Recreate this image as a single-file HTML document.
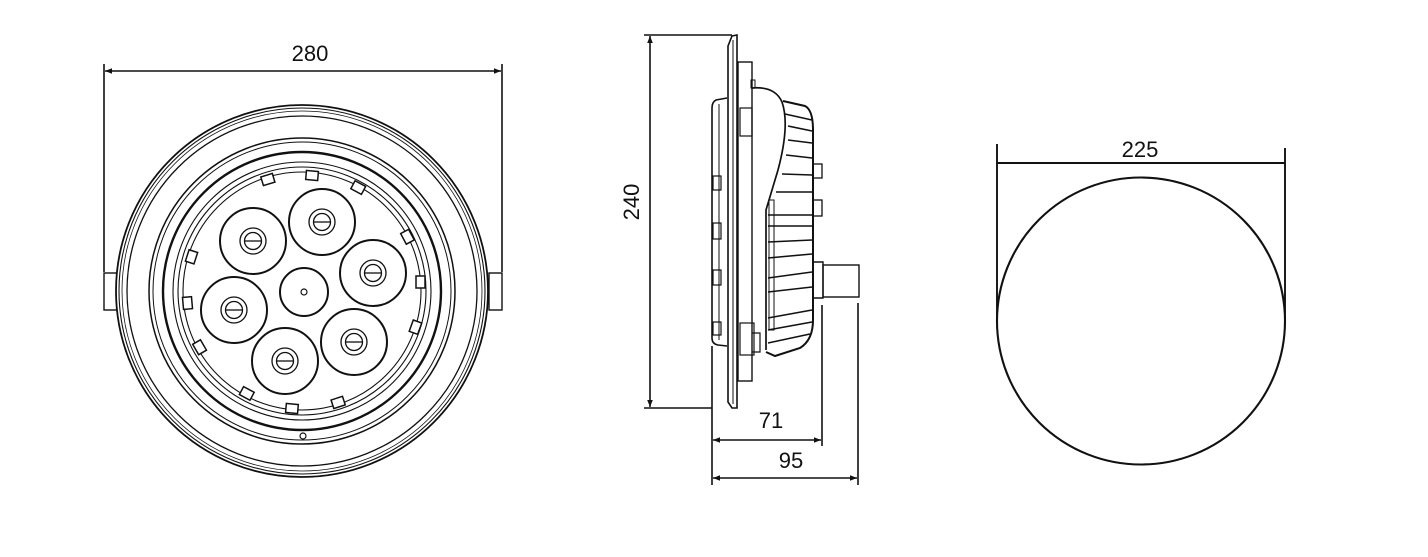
<!DOCTYPE html>
<html><head><meta charset="utf-8"><style>
html,body{margin:0;padding:0;background:#fff;}
svg{display:block;}
text{font-family:"Liberation Sans",Arial,sans-serif;font-size:22px;fill:#111;}
</style></head><body>
<svg width="1428" height="557" viewBox="0 0 1428 557" xmlns="http://www.w3.org/2000/svg">
<defs>
<marker id="ar" viewBox="0 0 10 10" refX="10" refY="5" markerWidth="13" markerHeight="7" orient="auto-start-reverse" markerUnits="userSpaceOnUse">
<path d="M0,1 L10,5 L0,9 z" fill="#111"/></marker>
</defs>
<g stroke="#111" fill="none">
<!-- FRONT VIEW -->
<line x1="104" y1="64" x2="104" y2="272" stroke-width="1.6"/>
<line x1="502" y1="64" x2="502" y2="272" stroke-width="1.6"/>
<line x1="105" y1="71" x2="501" y2="71" stroke-width="1.5" marker-start="url(#ar)" marker-end="url(#ar)"/>
<rect x="104" y="273" width="13" height="37" stroke-width="1.4" fill="#fff"/>
<rect x="489" y="273" width="13" height="37" stroke-width="1.4" fill="#fff"/>
<circle cx="302" cy="291" r="186" stroke-width="1.8" fill="#fff"/>
<circle cx="302" cy="291" r="183" stroke-width="1.1"/>
<circle cx="302" cy="291" r="180" stroke-width="0.8"/>
<circle cx="302" cy="291" r="175" stroke-width="1.3"/>
<circle cx="302" cy="291" r="153" stroke-width="1.5"/>
<circle cx="302" cy="291" r="149" stroke-width="1"/>
<circle cx="302" cy="291" r="139" stroke-width="2.4"/>
<circle cx="302" cy="291" r="129" stroke-width="1.1"/>
<circle cx="302" cy="291" r="124" stroke-width="1.1"/>
<circle cx="302" cy="291" r="119" stroke-width="1.1"/>
<g stroke-width="1.5" fill="#fff">
<rect x="-6" y="-5" width="12" height="9" transform="translate(312,176) rotate(5)"/>
<rect x="-6" y="-5" width="12" height="9" transform="translate(268,180) rotate(-17)"/>
<rect x="-6" y="-5" width="12" height="9" transform="translate(358,188) rotate(28)"/>
<rect x="-6" y="-5" width="12" height="9" transform="translate(407,237) rotate(62)"/>
<rect x="-6" y="-5" width="12" height="9" transform="translate(420,282) rotate(90)"/>
<rect x="-6" y="-5" width="12" height="9" transform="translate(415,327) rotate(110)"/>
<rect x="-6" y="-5" width="12" height="9" transform="translate(338,402) rotate(162)"/>
<rect x="-6" y="-5" width="12" height="9" transform="translate(292,408) rotate(185)"/>
<rect x="-6" y="-5" width="12" height="9" transform="translate(247,393) rotate(208)"/>
<rect x="-6" y="-5" width="12" height="9" transform="translate(200,347) rotate(240)"/>
<rect x="-6" y="-5" width="12" height="9" transform="translate(188,303) rotate(265)"/>
<rect x="-6" y="-5" width="12" height="9" transform="translate(192,257) rotate(288)"/>
</g>
<circle cx="303" cy="436" r="3" stroke-width="1.2"/>
<g stroke-width="2" fill="#fff">
<circle cx="253" cy="241" r="33"/><circle cx="322" cy="222" r="33"/>
<circle cx="373" cy="273" r="33"/><circle cx="234" cy="310" r="33"/>
<circle cx="354" cy="342" r="33"/><circle cx="285" cy="361" r="33"/>
<circle cx="304" cy="292" r="24"/>
</g>
<circle cx="304" cy="292" r="3" stroke-width="1.2"/>
<g stroke-width="1.3">
<g transform="translate(253,241)"><circle r="13"/><circle r="8.5"/><line x1="-8" y1="0" x2="8" y2="0"/></g>
<g transform="translate(322,222)"><circle r="13"/><circle r="8.5"/><line x1="-8" y1="0" x2="8" y2="0"/></g>
<g transform="translate(373,273)"><circle r="13"/><circle r="8.5"/><line x1="-8" y1="0" x2="8" y2="0"/></g>
<g transform="translate(234,310)"><circle r="13"/><circle r="8.5"/><line x1="-8" y1="0" x2="8" y2="0"/></g>
<g transform="translate(354,342)"><circle r="13"/><circle r="8.5"/><line x1="-8" y1="0" x2="8" y2="0"/></g>
<g transform="translate(285,361)"><circle r="13"/><circle r="8.5"/><line x1="-8" y1="0" x2="8" y2="0"/></g>
</g>

<!-- SIDE VIEW -->
<line x1="644" y1="35" x2="732" y2="35" stroke-width="1.6"/>
<line x1="644" y1="408" x2="712" y2="408" stroke-width="1.6"/>
<line x1="650" y1="36" x2="650" y2="407" stroke-width="1.6" marker-start="url(#ar)" marker-end="url(#ar)"/>
<path d="M732,36 L737,35 L737,408 L732,408 L728,402 L728,46 Z" stroke-width="1.6" fill="#fff"/>
<line x1="733" y1="40" x2="733" y2="404" stroke-width="1"/>
<rect x="738" y="62" width="14" height="319" stroke-width="1.4"/>
<line x1="752" y1="80" x2="752" y2="360" stroke-width="1"/>
<rect x="740" y="108" width="12" height="28" stroke-width="1.2"/>
<rect x="740" y="323" width="14" height="32" stroke-width="1.2"/>
<path d="M752,333 L760,333 L760,352 L752,352" stroke-width="1.2"/>
<rect x="751" y="80" width="4" height="8" stroke-width="1"/>
<path d="M727,98 L716,100 Q712,102 712,108 L712,338 Q712,344 718,345 L727,346" stroke-width="1.6"/>
<line x1="719" y1="104" x2="719" y2="340" stroke-width="1"/>
<rect x="713" y="176" width="8" height="14" stroke-width="1.2"/>
<rect x="713" y="223" width="8" height="16" stroke-width="1.2"/>
<rect x="713" y="270" width="8" height="15" stroke-width="1.2"/>
<rect x="713" y="322" width="8" height="13" stroke-width="1.2"/>
<path d="M752,88 Q775,86 782,102 Q790,125 778,170 Q772,190 766,210 L766,350" stroke-width="1.7"/>
<path d="M783,101 L805,106 Q813,110 813,130 L813,320 Q813,340 800,348 L775,356 L766,352" stroke-width="2"/>
<g stroke-width="1.6">
<line x1="785" y1="114" x2="812" y2="120"/><line x1="788" y1="126" x2="812" y2="131"/>
<line x1="788" y1="140" x2="812" y2="143"/><line x1="786" y1="155" x2="812" y2="158"/>
<line x1="782" y1="174" x2="812" y2="175"/><line x1="776" y1="192" x2="812" y2="192"/>
<line x1="768" y1="215" x2="812" y2="215"/><line x1="768" y1="226" x2="812" y2="226"/>
<line x1="768" y1="242" x2="812" y2="240"/><line x1="768" y1="258" x2="812" y2="254"/>
<line x1="768" y1="278" x2="812" y2="272"/><line x1="768" y1="292" x2="812" y2="287"/>
<line x1="768" y1="318" x2="812" y2="310"/><line x1="768" y1="330" x2="812" y2="322"/>
<line x1="768" y1="343" x2="810" y2="334"/>
</g>
<rect x="769" y="200" width="5" height="130" stroke-width="1"/>
<rect x="813" y="164" width="9" height="14" stroke-width="1.3"/>
<rect x="813" y="200" width="9" height="16" stroke-width="1.3"/>
<path d="M813,262 L823,262 L823,298 L813,298" stroke-width="1.4"/>
<rect x="823" y="265" width="36" height="32" stroke-width="1.4"/>
<line x1="712" y1="346" x2="712" y2="485" stroke-width="1.6"/>
<line x1="822" y1="305" x2="822" y2="446" stroke-width="1.6"/>
<line x1="858" y1="303" x2="858" y2="485" stroke-width="1.6"/>
<line x1="713" y1="440" x2="821" y2="440" stroke-width="1.6" marker-start="url(#ar)" marker-end="url(#ar)"/>
<line x1="713" y1="478" x2="857" y2="478" stroke-width="1.6" marker-start="url(#ar)" marker-end="url(#ar)"/>

<!-- RIGHT CIRCLE -->
<line x1="997" y1="144" x2="997" y2="320" stroke-width="1.9"/>
<line x1="1285" y1="148" x2="1285" y2="320" stroke-width="1.9"/>
<line x1="997" y1="163" x2="1285" y2="163" stroke-width="1.9"/>
<ellipse cx="1141" cy="321" rx="144" ry="143.5" stroke-width="2.1"/>
</g>
<text x="310" y="61" text-anchor="middle">280</text>
<text x="0" y="0" text-anchor="middle" transform="translate(639,202) rotate(-90)">240</text>
<text x="771" y="428" text-anchor="middle">71</text>
<text x="791" y="468" text-anchor="middle">95</text>
<text x="1140" y="157" text-anchor="middle">225</text>
</svg>
</body></html>
